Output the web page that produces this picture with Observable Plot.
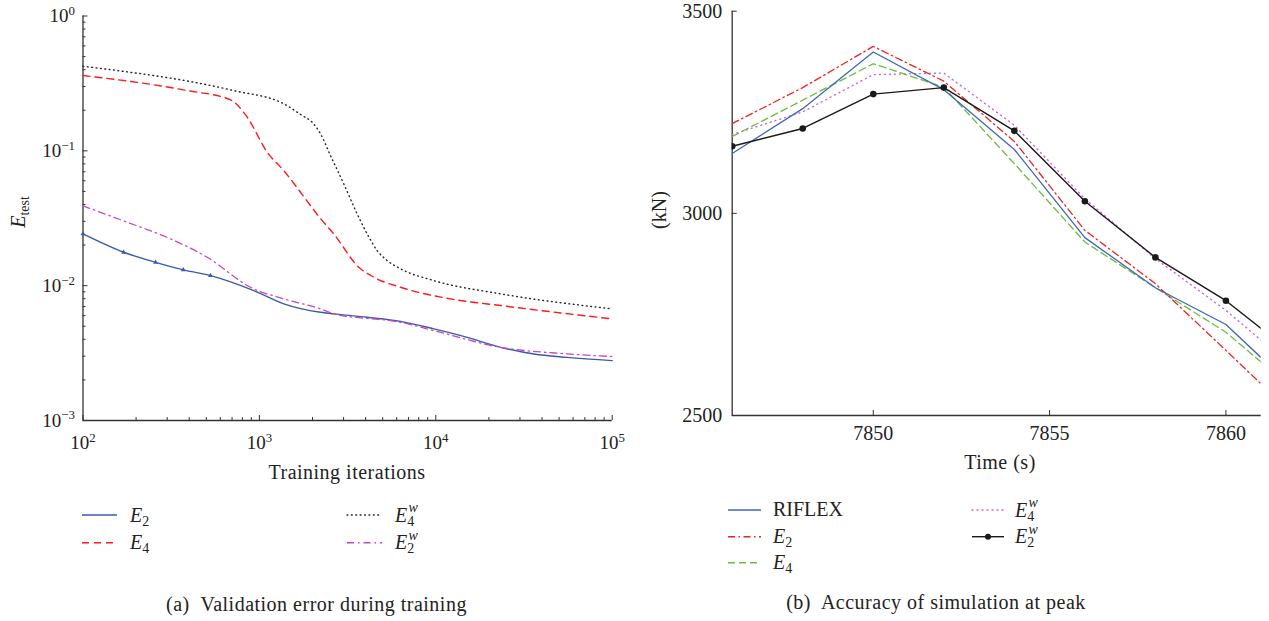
<!DOCTYPE html>
<html><head><meta charset="utf-8">
<script src="https://cdn.jsdelivr.net/npm/d3@7"></script>
<script src="https://cdn.jsdelivr.net/npm/@observablehq/plot@0.6"></script>
<style>
html,body{margin:0;padding:0;background:#fff;}
#root{position:relative;width:1269px;height:621px;overflow:hidden;font-family:"Liberation Serif",serif;color:#222;}
#root svg{position:absolute;top:0;}
</style></head>
<body><div id="root"></div>
<script>
// ---------- Panel (a): validation error during training ----------
const iterE2  = [100,170,258,370,528,929,1375,2218,2641,4083,6310,9750,15070,23300,36000,55600,100000];
const valE2   = [0.0242,0.0177,0.0149,0.0131,0.01188,0.0092,0.00733,0.00635,0.00618,0.00583,0.00544,0.00478,0.00414,0.00349,0.00311,0.00294,0.00278];
const iterE4  = [100,389,686,853,1107,1374,1710,2218,2641,3658,4454,6310,12100,23300,100000];
const valE4   = [0.362,0.28,0.239,0.1776,0.0977,0.0714,0.0493,0.0315,0.0242,0.0137,0.01154,0.00973,0.00798,0.00712,0.00567];
const iterE4w = [100,713,1374,1748,1991,2220,2529,3008,3581,4083,4653,5300,6310,9750,23300,100000];
const valE4w  = [0.424,0.28,0.2233,0.1827,0.163,0.1337,0.0923,0.0569,0.0341,0.0242,0.0182,0.01535,0.01333,0.0109,0.0087,0.00673];
const iterE2w = [100,178,313,506,890,1375,2218,2640,6310,9750,23300,55600,100000];
const valE2w  = [0.039,0.02954,0.02224,0.01624,0.00973,0.00798,0.00673,0.00618,0.00535,0.00464,0.00349,0.00312,0.00298];
const xMajorA = [1e2,1e3,1e4,1e5];
const yMajorA = [1e-3,1e-2,1e-1,1];

// ---------- Panel (b): accuracy of simulation at peak ----------
const timeB   = [7846,7848,7850,7852,7854,7856,7858,7860,7862];
const riflexB = [3148,3259,3399,3306,3158,2940,2816,2725,2561];
const e2B     = [3222,3311,3413,3327,3178,2958,2826,2661,2495];
const e4B     = [3190,3280,3370,3312,3123,2929,2816,2706,2558];
const e4wB    = [3195,3251,3343,3347,3218,3036,2888,2760,2612];
const e2wB    = [3166,3210,3295,3311,3204,3030,2891,2784,2646];
const xTicksB = [7850,7855,7860];
const yTicksB = [2500,3000,3500];

const rows = (xs, ys) => xs.map((x, i) => ({x, y: ys[i]}));
const minorLog = (lo, hi) => { const out = []; for (let e = lo; e < hi; e++) for (let m = 2; m <= 9; m++) out.push(m * Math.pow(10, e)); return out; };

const FONT = "'Liberation Serif', serif";
const AX = "#333";
const root = document.getElementById("root");

// colours
const cBlue = "#3b5aac", cRed = "#ff1a1a", cBlack = "#222", cMag = "#c846c0";
const bBlue = "#4066b8", bRed = "#ee2222", bGreen = "#6cbb3c", bPink = "#cc66cc", bBlack = "#1a1a1a";

const plotA = Plot.plot({
  width: 640, height: 490,
  marginLeft: 82.5, marginRight: 28.3, marginTop: 15.5, marginBottom: 70,
  style: {fontFamily: FONT, fontSize: "19px", color: "#222", background: "transparent", overflow: "visible"},
  x: {type: "log", domain: [1e2, 1e5]},
  y: {type: "log", domain: [1e-3, 1]},
  marks: [
    Plot.ruleX([1e2], {stroke: AX, strokeWidth: 1.3}),
    Plot.ruleY([1e-3], {stroke: AX, strokeWidth: 1.3}),
    Plot.axisX({ticks: minorLog(2, 5), tickSize: -3, tickFormat: () => "", label: null, stroke: AX}),
    Plot.axisY({ticks: minorLog(-3, 0), tickSize: -3, tickFormat: () => "", label: null, stroke: AX}),
    Plot.axisX({ticks: xMajorA, tickSize: -5, tickPadding: 20, tickFormat: d => "10^" + Math.round(Math.log10(d)), label: null, stroke: AX}),
    Plot.axisY({ticks: yMajorA, tickSize: -5, tickPadding: 13, tickFormat: d => "10^" + Math.round(Math.log10(d)), label: null, stroke: AX}),
    Plot.line(rows(iterE4w, valE4w), {x: "x", y: "y", stroke: cBlack, strokeWidth: 1.4, strokeDasharray: "0.8,3.6", strokeLinecap: "round", curve: "monotone-x"}),
    Plot.line(rows(iterE4, valE4), {x: "x", y: "y", stroke: cRed, strokeWidth: 1.4, strokeDasharray: "7,5", curve: "monotone-x"}),
    Plot.line(rows(iterE2, valE2), {x: "x", y: "y", stroke: cBlue, strokeWidth: 1.4, curve: "monotone-x"}),
    Plot.dot(rows(iterE2, valE2).slice(0, 5), {x: "x", y: "y", r: 1.8, fill: cBlue, symbol: "triangle"}),
    Plot.line(rows(iterE2w, valE2w), {x: "x", y: "y", stroke: cMag, strokeWidth: 1.3, strokeDasharray: "7,4,1.5,4", curve: "monotone-x"})
  ]
});
plotA.style.left = "0px";
root.appendChild(plotA);

const plotB = Plot.plot({
  width: 629, height: 480,
  marginLeft: 91.7, marginRight: 8.3, marginTop: 10.7, marginBottom: 65,
  style: {fontFamily: FONT, fontSize: "20px", color: "#222", background: "transparent", overflow: "visible"},
  x: {domain: [7846, 7861]},
  y: {domain: [2500, 3500]},
  marks: [
    Plot.ruleX([7846], {stroke: AX, strokeWidth: 1.3}),
    Plot.ruleY([2500], {stroke: AX, strokeWidth: 1.3}),
    Plot.axisX({ticks: xTicksB, tickSize: -5, tickPadding: 15, tickFormat: d => String(d), label: null, stroke: AX}),
    Plot.axisY({ticks: yTicksB, tickSize: -5, tickPadding: 15, tickFormat: d => String(d), label: null, stroke: AX}),
    Plot.line(rows(timeB, e4wB), {x: "x", y: "y", stroke: bPink, strokeWidth: 1.4, strokeDasharray: "1,4", strokeLinecap: "round", clip: true}),
    Plot.line(rows(timeB, e4B), {x: "x", y: "y", stroke: bGreen, strokeWidth: 1.3, strokeDasharray: "7,4", clip: true}),
    Plot.line(rows(timeB, e2B), {x: "x", y: "y", stroke: bRed, strokeWidth: 1.3, strokeDasharray: "7,3.5,1.5,3.5", clip: true}),
    Plot.line(rows(timeB, riflexB), {x: "x", y: "y", stroke: bBlue, strokeWidth: 1.3, clip: true}),
    Plot.line(rows(timeB, e2wB), {x: "x", y: "y", stroke: bBlack, strokeWidth: 1.4, clip: true}),
    Plot.dot(rows(timeB, e2wB), {x: "x", y: "y", r: 3.3, fill: bBlack, clip: true})
  ]
});
plotB.style.left = "640px";
root.appendChild(plotB);

// superscript exponents on log tick labels
d3.select(plotA).selectAll("text").each(function () {
  const s = this.textContent;
  if (!s.startsWith("10^")) return;
  const e = s.slice(3).replace("-", "\u2212");
  const t = d3.select(this);
  t.text("10");
  t.append("tspan").attr("dy", "-0.55em").attr("font-size", "0.68em").text(e);
});

// axis titles
const sa = d3.select(plotA);
const yt = sa.append("text").attr("transform", "translate(25,212) rotate(-90)").attr("text-anchor", "middle")
  .attr("font-size", 20).attr("fill", "#222");
yt.append("tspan").attr("font-style", "italic").text("E");
yt.append("tspan").attr("font-size", 14).attr("dy", 4).text("test");
sa.append("text").attr("x", 347).attr("y", 479).attr("text-anchor", "middle").attr("font-size", 20)
  .attr("letter-spacing", 0.5).attr("fill", "#222").text("Training iterations");

const sb = d3.select(plotB);
sb.append("text").attr("transform", "translate(26,210) rotate(-90)").attr("text-anchor", "middle")
  .attr("font-size", 20).attr("fill", "#222").text("(kN)");
sb.append("text").attr("x", 360).attr("y", 469).attr("text-anchor", "middle").attr("font-size", 20)
  .attr("letter-spacing", 0.5).attr("fill", "#222").text("Time (s)");

// legends and captions
const ov = d3.select(root).append("svg").attr("width", 1269).attr("height", 621)
  .style("left", "0px").style("font-family", FONT).attr("fill", "#222");

function swatch(x1, x2, y, color, dash, w, dot) {
  const round = dash && (dash.startsWith("1,") || dash.startsWith("0.8"));
  ov.append("line").attr("x1", x1).attr("x2", x2).attr("y1", y).attr("y2", y)
    .attr("stroke", color).attr("stroke-width", w || 1.4).attr("stroke-dasharray", dash || null)
    .attr("stroke-linecap", round ? "round" : "butt");
  if (dot) ov.append("circle").attr("cx", (x1 + x2) / 2).attr("cy", y).attr("r", 3).attr("fill", color);
}
function eLabel(x, y, sub, sup) {
  const t = ov.append("text").attr("x", x).attr("y", y).attr("font-size", 20);
  t.append("tspan").attr("font-style", "italic").text("E");
  t.append("tspan").attr("font-size", 14).attr("dy", 4).text(sub);
  if (sup) t.append("tspan").attr("x", x + 13.5).attr("dy", -13.5).attr("font-size", 14).attr("font-style", "italic").text(sup);
}

// legend (a)
swatch(82, 117, 515, cBlue, null);
eLabel(130, 521.5, "2");
swatch(82, 117, 542.7, cRed, "7,5");
eLabel(130, 549, "4");
swatch(347, 382, 515, cBlack, "0.8,3.6");
eLabel(395, 521.5, "4", "w");
swatch(347, 382, 542.7, cMag, "7,4,1.5,4");
eLabel(395, 549, "2", "w");

// legend (b)
swatch(728, 761, 510, bBlue, null);
ov.append("text").attr("x", 773).attr("y", 515.5).attr("font-size", 20).text("RIFLEX");
swatch(728, 761, 536.7, bRed, "7,3.5,1.5,3.5");
eLabel(773, 543, "2");
swatch(728, 761, 562.7, bGreen, "7,4");
eLabel(773, 569, "4");
swatch(972, 1004, 510, bPink, "1,4");
eLabel(1015, 516.5, "4", "w");
swatch(972, 1004, 536.7, bBlack, null, 1.4, true);
eLabel(1015, 543, "2", "w");

// captions
ov.append("text").attr("x", 316.5).attr("y", 611).attr("text-anchor", "middle").attr("font-size", 20)
  .attr("letter-spacing", 0.5).style("white-space", "pre").text("(a)  Validation error during training");
ov.append("text").attr("x", 936).attr("y", 609).attr("text-anchor", "middle").attr("font-size", 20)
  .attr("letter-spacing", 0.5).style("white-space", "pre").text("(b)  Accuracy of simulation at peak");
</script>
</body></html>
